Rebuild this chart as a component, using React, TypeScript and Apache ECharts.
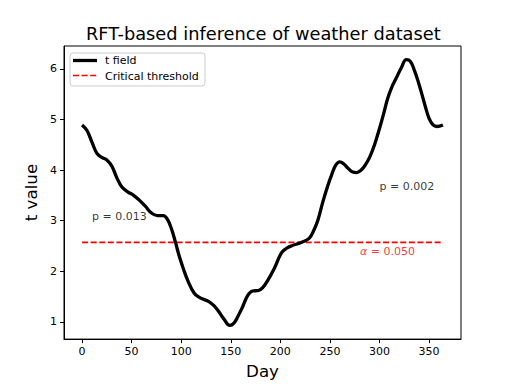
import React, { useEffect, useRef } from "react";
import * as echarts from "echarts";

const days = [0, 5, 10, 15, 20, 25, 30, 35, 40, 46, 52, 58, 64, 70, 76, 82, 86, 90, 94, 98, 102, 107, 113, 118, 123, 128, 133, 138, 143, 149, 153, 157, 162, 167, 172, 178, 182, 187, 194, 201, 206, 211, 221, 229, 234, 238, 243, 248, 252, 256, 260, 264, 268, 273, 277, 281, 285, 290, 295, 300, 304, 308, 312, 317, 322, 327, 331, 335, 339, 343, 346, 350, 354, 358, 364];
const tValues = [4.89, 4.78, 4.55, 4.33, 4.25, 4.2, 4.08, 3.85, 3.67, 3.57, 3.5, 3.4, 3.28, 3.15, 3.1, 3.1, 3.03, 2.85, 2.59, 2.3, 2.06, 1.8, 1.57, 1.49, 1.44, 1.4, 1.32, 1.2, 1.06, 0.93, 0.97, 1.1, 1.3, 1.52, 1.61, 1.62, 1.67, 1.81, 2.06, 2.36, 2.45, 2.5, 2.57, 2.65, 2.82, 3.02, 3.38, 3.7, 3.92, 4.1, 4.16, 4.12, 4.04, 3.96, 3.95, 3.99, 4.08, 4.25, 4.5, 4.82, 5.1, 5.4, 5.62, 5.82, 6.02, 6.18, 6.15, 5.98, 5.75, 5.48, 5.27, 5.02, 4.89, 4.86, 4.89];
const thresholdDays = [0, 364];
const thresholdValue = 2.57;
const xTicks = [0, 50, 100, 150, 200, 250, 300, 350];
const yTicks = [1, 2, 3, 4, 5, 6];
const annotations = [
  { day: 10, value: 3.08, text: "p = 0.013", color: "#000000" },
  { day: 300, value: 3.67, text: "p = 0.002", color: "#000000" },
  { day: 280.4, value: 2.395, text: "{a|α} = 0.050", color: "#ff0000" },
];
const seriesNames = ["t field", "Critical threshold"];

const FONT = "DejaVu Sans";

export default function App() {
  const ref = useRef<HTMLDivElement>(null);
  useEffect(() => {
    if (!ref.current) return;
    const chart = echarts.init(ref.current, null, { renderer: "svg" });
    chart.setOption({
      animation: false,
      backgroundColor: "#ffffff",
      title: {
        text: "RFT-based inference of weather dataset",
        left: 86,
        top: 24,
        padding: 0,
        textStyle: { fontFamily: FONT, fontSize: 17.8, fontWeight: "normal", color: "#000" },
      },
      grid: {
        left: 64,
        top: 46,
        width: 397,
        height: 296,
        show: true,
        borderColor: "#000",
        borderWidth: 1,
        backgroundColor: "transparent",
      },
      xAxis: {
        type: "value",
        min: -18.2,
        max: 382.2,
        name: "Day",
        nameLocation: "middle",
        nameGap: 20,
        nameTextStyle: { fontFamily: FONT, fontSize: 16.7, color: "#000" },
        axisLine: { show: true, onZero: false, lineStyle: { color: "#000", width: 1 } },
        axisTick: { show: true, inside: false, length: 4, customValues: xTicks, lineStyle: { color: "#000" } },
        axisLabel: { customValues: xTicks, fontFamily: FONT, fontSize: 11, color: "#000", margin: 7 },
        splitLine: { show: false },
      },
      yAxis: {
        type: "value",
        min: 0.66,
        max: 6.45,
        name: "t value",
        nameLocation: "middle",
        nameGap: 20,
        nameTextStyle: { fontFamily: FONT, fontSize: 16.7, color: "#000" },
        axisLine: { show: true, onZero: false, lineStyle: { color: "#000", width: 1 } },
        axisTick: { show: true, inside: false, length: 4, customValues: yTicks, lineStyle: { color: "#000" } },
        axisLabel: { customValues: yTicks, fontFamily: FONT, fontSize: 11, color: "#000", margin: 7 },
        splitLine: { show: false },
      },
      series: [
        {
          name: seriesNames[0],
          type: "line",
          data: days.map((d, i) => [d, tValues[i]]),
          smooth: 0.4,
          symbol: "none",
          lineStyle: { color: "#000", width: 3.3 },
          z: 3,
        },
        {
          name: seriesNames[1],
          type: "line",
          data: thresholdDays.map((d) => [d, thresholdValue]),
          symbol: "none",
          lineStyle: { color: "#ff0000", width: 1.7, type: [6, 2.6] },
          z: 2,
        },
        {
          name: "annotations",
          type: "scatter",
          symbolSize: 0,
          data: annotations.map((a) => ({
            value: [a.day, a.value],
            label: {
              show: true,
              position: "right",
              distance: 0,
              formatter: a.text,
              color: a.color,
              fontFamily: FONT,
              fontSize: 11,
              rich: { a: { fontStyle: "italic", color: a.color, fontFamily: FONT, fontSize: 11 } },
            },
          })),
          z: 4,
        },
      ],
      graphic: [
        {
          type: "rect",
          shape: { x: 70, y: 53, width: 135, height: 33, r: 3 },
          style: { fill: "rgba(255,255,255,0.8)", stroke: "#cccccc", lineWidth: 1 },
          z: 10,
        },
        {
          type: "line",
          shape: { x1: 73, y1: 60.5, x2: 97, y2: 60.5 },
          style: { stroke: "#000", lineWidth: 3.3 },
          z: 11,
        },
        {
          type: "text",
          x: 105,
          y: 60.5,
          style: { text: seriesNames[0], fontFamily: FONT, fontSize: 11, fill: "#000", align: "left", verticalAlign: "middle" },
          z: 11,
        },
        {
          type: "line",
          shape: { x1: 73, y1: 75.5, x2: 97, y2: 75.5 },
          style: { stroke: "#ff0000", lineWidth: 1.7, lineDash: [6, 2.6] },
          z: 11,
        },
        {
          type: "text",
          x: 105,
          y: 76,
          style: { text: seriesNames[1], fontFamily: FONT, fontSize: 11, fill: "#000", align: "left", verticalAlign: "middle" },
          z: 11,
        },
      ],
    });
    return () => chart.dispose();
  }, []);
  return <div ref={ref} style={{ position: "fixed", left: 0, top: 0, width: 512, height: 384 }} />;
}
